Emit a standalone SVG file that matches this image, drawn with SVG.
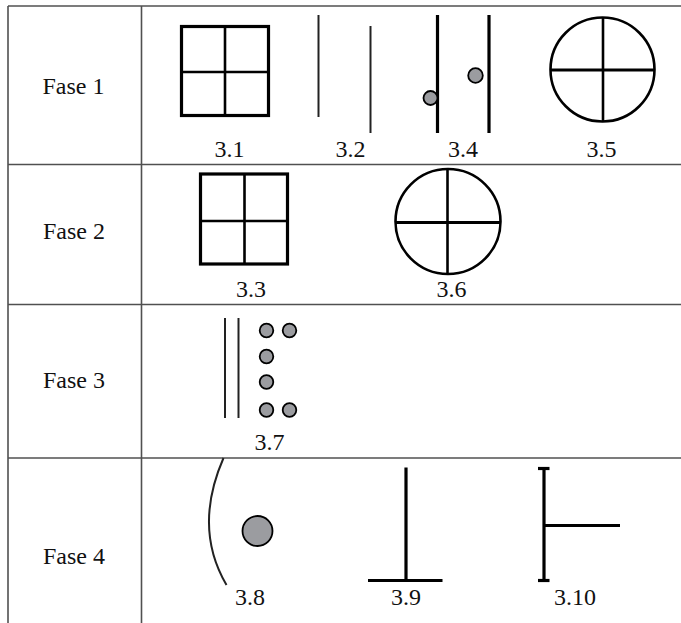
<svg xmlns="http://www.w3.org/2000/svg" width="681" height="623" viewBox="0 0 681 623">
<style>
.grid{stroke:#505050;stroke-width:1.6;fill:none}
text{font-family:'Liberation Serif','Times New Roman',serif;font-size:24px;fill:#111;text-anchor:middle}
.thick{stroke:#000;stroke-width:3.2;fill:none}
.med{stroke:#000;stroke-width:2.6;fill:none}
.thin{stroke:#222;stroke-width:2;fill:none}
.dot{fill:#9b9ca0;stroke:#000;stroke-width:1.8}
</style>
<rect width="681" height="623" fill="#fff"/>
<g id="table" class="grid">
<line x1="8" y1="6" x2="681" y2="6"/>
<line x1="8" y1="6" x2="8" y2="623"/>
<line x1="141.5" y1="6" x2="141.5" y2="623"/>
<line x1="8" y1="164.5" x2="681" y2="164.5"/>
<line x1="8" y1="304.5" x2="681" y2="304.5"/>
<line x1="8" y1="458" x2="681" y2="458"/>
</g>
<g id="phase-labels">
<text x="73.5" y="94">Fase 1</text>
<text x="74" y="239">Fase 2</text>
<text x="74" y="388">Fase 3</text>
<text x="74" y="564">Fase 4</text>
</g>
<g id="fig-3-1">
<rect class="thick" x="181.5" y="26.5" width="87" height="89"/>
<line class="med" x1="225" y1="26.5" x2="225" y2="115.5"/>
<line class="med" x1="181.5" y1="72" x2="268.5" y2="72"/>
<text x="229.5" y="157">3.1</text>
</g>
<g id="fig-3-2">
<line class="thin" x1="318.5" y1="15" x2="318.5" y2="117"/>
<line class="thin" x1="370.5" y1="26" x2="370.5" y2="133"/>
<text x="350.5" y="157">3.2</text>
</g>
<g id="fig-3-4">
<line class="thick" x1="437.5" y1="15" x2="437.5" y2="133"/>
<line class="thick" x1="489" y1="15" x2="489" y2="133"/>
<circle class="dot" cx="430.5" cy="98" r="7"/>
<circle class="dot" cx="475.5" cy="75.5" r="7.3"/>
<text x="463" y="157">3.4</text>
</g>
<g id="fig-3-5">
<circle class="med" cx="602.5" cy="69.5" r="52"/>
<line class="thick" x1="550.5" y1="70" x2="654.5" y2="70"/>
<line class="med" x1="603" y1="17.5" x2="603" y2="121.5"/>
<text x="601.5" y="157">3.5</text>
</g>
<g id="fig-3-3">
<rect class="thick" x="200.5" y="174" width="87" height="90"/>
<line class="med" x1="244.5" y1="174" x2="244.5" y2="264"/>
<line class="med" x1="200.5" y1="221" x2="287.5" y2="221"/>
<text x="251" y="297">3.3</text>
</g>
<g id="fig-3-6">
<circle class="med" cx="448" cy="221.5" r="52.5"/>
<line class="thick" x1="395.5" y1="222.5" x2="500.5" y2="222.5"/>
<line class="med" x1="447.5" y1="169" x2="447.5" y2="274"/>
<text x="451.5" y="297">3.6</text>
</g>
<g id="fig-3-7">
<line class="thin" x1="225" y1="318" x2="225" y2="418"/>
<line class="thin" x1="238.5" y1="318" x2="238.5" y2="418"/>
<circle class="dot" cx="266.5" cy="330.5" r="6.8"/>
<circle class="dot" cx="289.5" cy="330.5" r="6.8"/>
<circle class="dot" cx="266.5" cy="356.5" r="6.8"/>
<circle class="dot" cx="266.5" cy="382" r="6.8"/>
<circle class="dot" cx="266.5" cy="410" r="6.8"/>
<circle class="dot" cx="289.5" cy="410" r="6.8"/>
<text x="269.5" y="450">3.7</text>
</g>
<g id="fig-3-8">
<path class="thin" d="M223.5 458 Q193 528 226.5 585"/>
<circle class="dot" cx="257.5" cy="531" r="15" stroke-width="2.2"/>
<text x="250" y="605">3.8</text>
</g>
<g id="fig-3-9">
<line class="thick" x1="406" y1="467.5" x2="406" y2="581"/>
<line class="thick" x1="368" y1="580.5" x2="442.5" y2="580.5"/>
<text x="406" y="605">3.9</text>
</g>
<g id="fig-3-10">
<line class="thick" x1="544" y1="468" x2="544" y2="581"/>
<line class="thick" x1="538" y1="468.5" x2="549.5" y2="468.5"/>
<line class="thick" x1="538" y1="580.5" x2="549.5" y2="580.5"/>
<line class="thick" x1="544" y1="525.5" x2="620" y2="525.5"/>
<text x="575" y="605">3.10</text>
</g>
</svg>
